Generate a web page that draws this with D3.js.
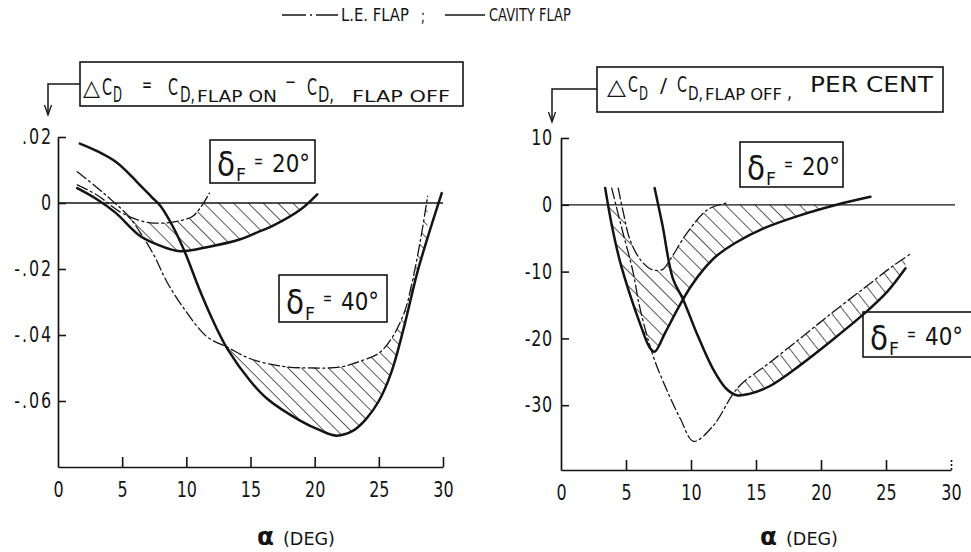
<!DOCTYPE html>
<html><head><meta charset="utf-8">
<script src="https://cdn.jsdelivr.net/npm/d3@7"></script>
<style>
html,body{margin:0;padding:0;background:#fff;}
svg{display:block;}
text{font-family:"DejaVu Sans",sans-serif;fill:#141414;}
</style></head><body>
<svg id="chart" width="971" height="552"></svg>
<script>
// ---------------- DATA ----------------
const alphaTicks = [0, 5, 10, 15, 20, 25, 30];
const alphaLabels = ["0", "5", "10", "15", "20", "25", "30"];
const leftYTicks = [0.02, 0, -0.02, -0.04, -0.06];
const leftYLabels = [".02", "0", "-.02", "-.04", "-.06"];
const rightYTicks = [10, 0, -10, -20, -30];
const rightYLabels = ["10", "0", "-10", "-20", "-30"];

// Left panel: delta CD  (alpha deg, value)
const leLeft20 = [[1.5,0.0055],[3,0.0025],[4.8,-0.0026],[6,-0.0048],[7.2,-0.006],[8.5,-0.006],[9.6,-0.0053],[10.5,-0.004],[11.1,-0.0014],[11.8,0.003]];
const cavLeft20 = [[1.5,0.0045],[3,0.0012],[4.5,-0.003],[6.4,-0.0100],[8,-0.0130],[9.5,-0.0146],[11.6,-0.0134],[14.2,-0.0110],[15.7,-0.0086],[16.8,-0.0068],[18.9,-0.0020],[20.2,0.0026]];
const leLeft40 = [[1.5,0.0095],[3,0.0048],[4.2,0.0008],[5.5,-0.0040],[6.5,-0.0095],[7.5,-0.0160],[8.5,-0.0240],[10,-0.0330],[11.6,-0.0405],[13.2,-0.0437],[15,-0.0472],[17.5,-0.0495],[20,-0.0500],[22,-0.0497],[23.5,-0.0480],[25,-0.0455],[26,-0.0410],[27,-0.0330],[27.6,-0.0240],[28.3,-0.0100],[28.8,0.002]];
const cavLeft40 = [[1.7,0.018],[3,0.0158],[4.6,0.0122],[6.2,0.0062],[7.3,0.0018],[8,-0.0010],[9,-0.0075],[9.9,-0.0150],[11,-0.0260],[12,-0.0350],[13.2,-0.0442],[15,-0.0540],[16.3,-0.0593],[18.9,-0.0660],[20.5,-0.0690],[21.7,-0.0705],[23,-0.0690],[24,-0.0655],[25,-0.0600],[26,-0.0510],[27,-0.0370],[28,-0.0210],[29,-0.0080],[29.9,0.003]];

// Right panel: delta CD / CD flap off, per cent
const leRight20 = [[4.4,2.5],[4.8,-1.2],[5.3,-5.2],[6.1,-8.2],[7,-9.7],[7.8,-9.7],[8.4,-8.2],[9.7,-4.2],[11.3,-0.7],[12.8,0.3]];
const cavRight20 = [[3.4,2.5],[3.9,-3],[4.5,-8.2],[5.3,-13.4],[6.1,-17.9],[6.8,-21.3],[7.2,-22],[8,-19.2],[9,-15.5],[10,-12.2],[11,-9.6],[12,-7.6],[13.5,-5.6],[15.5,-3.6],[18.2,-1.7],[21.2,0],[23.8,1.2]];
const leRight40 = [[3.9,2.5],[4.7,-3.7],[5.5,-9.7],[6.1,-15.7],[7.1,-22.7],[8.2,-28],[9.2,-32.1],[10.2,-35.4],[11.7,-33.1],[13.2,-28.4],[14,-26.6],[15.8,-24],[18.4,-20],[20.9,-16.1],[23.5,-12.2],[25.5,-9.2],[27,-7.2]];
const cavRight40 = [[7.2,2.5],[7.8,-3],[8.6,-11],[9.4,-14.2],[10.5,-19.5],[11.7,-24.6],[12.7,-27.5],[13.5,-28.5],[14.5,-28.3],[16,-27.2],[18.4,-24],[20.9,-20.2],[23.5,-16],[25.1,-13],[26.5,-9.5]];

// ---------------- DRAW ----------------
const svg = d3.select("#chart");
const INK = "#141414";
const defs = svg.append("defs");

function makePattern(id, angle, spacing) {
  const p = defs.append("pattern").attr("id", id)
    .attr("patternUnits", "userSpaceOnUse")
    .attr("width", spacing).attr("height", 40)
    .attr("patternTransform", `rotate(${angle})`);
  p.append("line").attr("x1", 0).attr("y1", -5).attr("x2", 0).attr("y2", 45)
    .attr("stroke", INK).attr("stroke-width", 1.4);
}
makePattern("hatch45", -45, 10.5);
makePattern("hatch45b", -45, 9.5);
makePattern("hatchSteep", -38, 11);

const curve = d3.curveCatmullRom.alpha(0.5);
let clipCount = 0;

function panel(opts) {
  const x = d3.scaleLinear().domain([0, 30]).range(opts.xRange);
  const y = d3.scaleLinear().domain(opts.yDomain).range(opts.yRange);
  const g = svg.append("g");
  const line = d3.line().x(d => x(d[0])).y(d => y(d[1])).curve(curve);
  const top = opts.yRange[1] - 60, bottom = opts.yRange[0], left = opts.xRange[0] - 40, right = opts.xRange[1];

  opts.hatches.forEach(h => {
    const lo = h.lower, up = h.upper;
    const loF = lo[0], loL = lo[lo.length - 1];
    const upF = up[0], upL = up[up.length - 1];
    const idA = "clipA" + (++clipCount), idB = "clipB" + clipCount, idC = "clipC" + clipCount;
    defs.append("clipPath").attr("id", idA).append("path")
      .attr("d", line(lo) + `L${x(loL[0])},${top}L${x(loF[0])},${top}Z`);
    let dB = line(up);
    if (h.extend) dB += `L${right},${y(upL[1])}L${right},${bottom}`;
    else dB += `L${x(upL[0])},${bottom}`;
    dB += `L${left},${bottom}L${left},${y(upF[1])}Z`;
    defs.append("clipPath").attr("id", idB).append("path").attr("d", dB);
    defs.append("clipPath").attr("id", idC).append("rect")
      .attr("x", left).attr("width", right - left + 40)
      .attr("y", h.zeroClip ? y(0) : top).attr("height", bottom - (h.zeroClip ? y(0) : top));
    g.append("g").attr("clip-path", `url(#${idA})`)
      .append("g").attr("clip-path", `url(#${idB})`)
      .append("g").attr("clip-path", `url(#${idC})`)
      .append("rect").attr("x", left).attr("y", top)
      .attr("width", right - left + 40).attr("height", bottom - top)
      .attr("fill", `url(#${h.pattern})`);
  });

  g.append("line").attr("x1", opts.xRange[0]).attr("x2", opts.zeroEnd)
    .attr("y1", y(0)).attr("y2", y(0)).attr("stroke", INK).attr("stroke-width", 1.3);

  opts.series.forEach(s => {
    g.append("path").attr("d", line(s.data)).attr("fill", "none")
      .attr("stroke", INK)
      .attr("stroke-width", s.le ? 1.3 : 2.5)
      .attr("stroke-dasharray", s.le ? "11,3.5,2,3.5" : null)
      .attr("stroke-linejoin", "round").attr("stroke-linecap", "round");
  });

  const xa = g.append("g").attr("transform", `translate(0,${opts.yRange[0]})`)
    .call(d3.axisBottom(x).tickValues(alphaTicks).tickFormat((d, i) => alphaLabels[i])
      .tickSize(-10).tickSizeOuter(0).tickPadding(15));
  xa.select(".domain").attr("stroke", INK).attr("stroke-width", 1.7);
  xa.selectAll(".tick line").attr("stroke", INK).attr("stroke-width", 1.6)
    .filter(d => d === 0).remove();
  if (opts.dottedLast) xa.selectAll(".tick line").filter(d => d === 30).attr("stroke-dasharray", "2,2");
  xa.selectAll("text").attr("font-size", 21).attr("fill", INK)
    .attr("transform", "scale(0.76,1)")
    .style("font-family", '"DejaVu Sans",sans-serif');

  const ya = g.append("g").attr("transform", `translate(${opts.xRange[0]},0)`)
    .call(d3.axisLeft(y).tickValues(opts.yTicks).tickFormat((d, i) => opts.yLabels[i])
      .tickSize(-8).tickSizeOuter(0).tickPadding(opts.yPad));
  ya.select(".domain").attr("stroke", INK).attr("stroke-width", 1.7);
  ya.selectAll(".tick line").attr("stroke", INK).attr("stroke-width", 1.6);
  ya.selectAll("text").attr("font-size", 21).attr("fill", INK)
    .attr("x", 0).attr("letter-spacing", opts.ySpacing)
    .attr("transform", `translate(${-opts.yPad},0) scale(0.76,1)`)
    .style("font-family", '"DejaVu Sans",sans-serif');
  return { x, y, g };
}

panel({
  xRange: [58, 443], yDomain: [-0.08, 0.02], yRange: [467, 137], zeroEnd: 443,
  yTicks: leftYTicks, yLabels: leftYLabels, yPad: 5, ySpacing: 2.5, dottedLast: false,
  series: [
    { data: leLeft20, le: true }, { data: cavLeft20, le: false },
    { data: leLeft40, le: true }, { data: cavLeft40, le: false }
  ],
  hatches: [
    { lower: cavLeft20, upper: leLeft20, extend: true, zeroClip: true, pattern: "hatch45" },
    { lower: cavLeft40, upper: leLeft40, extend: false, zeroClip: false, pattern: "hatch45b" }
  ]
});

panel({
  xRange: [561, 951], yDomain: [-39.7, 10], yRange: [470, 138], zeroEnd: 955,
  yTicks: rightYTicks, yLabels: rightYLabels, yPad: 8, ySpacing: 1, dottedLast: true,
  series: [
    { data: leRight20, le: true }, { data: cavRight20, le: false },
    { data: leRight40, le: true }, { data: cavRight40, le: false }
  ],
  hatches: [
    { lower: cavRight20, upper: leRight20, extend: true, zeroClip: true, pattern: "hatch45" },
    { lower: cavRight40, upper: leRight40, extend: false, zeroClip: false, pattern: "hatchSteep" }
  ]
});

// ---------- text helpers ----------
// text placed at (x, baseline y), horizontally scaled so that it spans width w
function txt(s, x, y, size, w, extra) {
  const g = svg.append("g").attr("transform", `translate(${x},${y})`);
  const t = g.append("text").attr("x", 0).attr("y", 0).attr("font-size", size).text(s);
  if (extra) Object.entries(extra).forEach(([k, v]) => t.attr(k, v));
  if (w) {
    const nat = t.node().getComputedTextLength();
    if (nat > 0) t.attr("transform", `scale(${(w / nat).toFixed(3)},1)`);
  }
  return t;
}
function box(x0, y0, x1, y1) {
  svg.append("rect").attr("x", x0).attr("y", y0).attr("width", x1 - x0).attr("height", y1 - y0)
    .attr("fill", "none").attr("stroke", INK).attr("stroke-width", 1.6);
}

// legend
svg.append("line").attr("x1", 282).attr("x2", 338).attr("y1", 15).attr("y2", 15)
  .attr("stroke", INK).attr("stroke-width", 1.4).attr("stroke-dasharray", "24,4,2,4,40");
txt("L.E. FLAP", 341, 21, 17, 68);
txt(";", 421, 22, 17, 4);
svg.append("line").attr("x1", 445).attr("x2", 485).attr("y1", 15).attr("y2", 15)
  .attr("stroke", INK).attr("stroke-width", 1.4);
txt("CAVITY FLAP", 489, 21, 17, 82);

// left header
box(80, 62, 463, 106);
txt("\u25B3", 83, 95, 22, 17);
txt("C", 102, 95, 23, 10);
txt("D", 113, 102, 21, 9);
txt("=", 142, 91, 19, 10);
txt("C", 168, 95, 23, 10);
txt("D,", 180, 102, 21, 15);
txt("FLAP ON", 197, 102, 16, 80);
txt("\u2212", 285, 88, 19, 11);
txt("C", 307, 95, 23, 10);
txt("D,", 318, 102, 21, 16);
txt("FLAP OFF", 352, 102, 16, 98);
svg.append("path").attr("d", "M80,84H48V113").attr("fill", "none").attr("stroke", INK).attr("stroke-width", 1.5);
svg.append("path").attr("d", "M44.5,105L48,115L51.5,105").attr("fill", "none").attr("stroke", INK).attr("stroke-width", 1.3);

// right header
box(597, 67, 943, 112);
txt("\u25B3", 607, 94, 22, 19);
txt("C", 628, 92, 22, 10);
txt("D", 639, 100, 20, 9);
txt("/", 660, 92, 20, 7);
txt("C", 677, 92, 22, 10);
txt("D,", 688, 100, 20, 15);
txt("FLAP OFF", 705, 100, 15, 77);
txt(",", 787, 99, 20, 5);
txt("PER CENT", 810, 92, 21, 123);
svg.append("path").attr("d", "M597,89H552V120").attr("fill", "none").attr("stroke", INK).attr("stroke-width", 1.5);
svg.append("path").attr("d", "M548.5,112L552,122L555.5,112").attr("fill", "none").attr("stroke", INK).attr("stroke-width", 1.3);

// delta-F label boxes
function deltaBox(x0, y0, x1, y1, val) {
  box(x0, y0, x1, y1);
  const b = y1 - y0;
  txt("\u03B4", x0 + 7, y0 + b * 0.84, 33, 18);
  txt("F", x0 + 26, y0 + b * 0.95, 18, 10);
  txt("=", x0 + 44, y0 + b * 0.62, 17, 9);
  txt(val + "\u00B0", x0 + 62, y0 + b * 0.74, 24, 38);
}
deltaBox(210, 140, 315, 183, "20");
deltaBox(279, 275, 387, 322, "40");
deltaBox(740, 142, 843, 187, "20");
deltaBox(863, 312, 972, 357, "40");

// x-axis titles
function alphaTitle(x0) {
  txt("\u03B1", x0, 545, 24, 17, { "font-weight": "bold" });
  txt("(DEG)", x0 + 26, 545, 18, 52);
}
alphaTitle(257);
alphaTitle(760);
</script>
</body></html>
